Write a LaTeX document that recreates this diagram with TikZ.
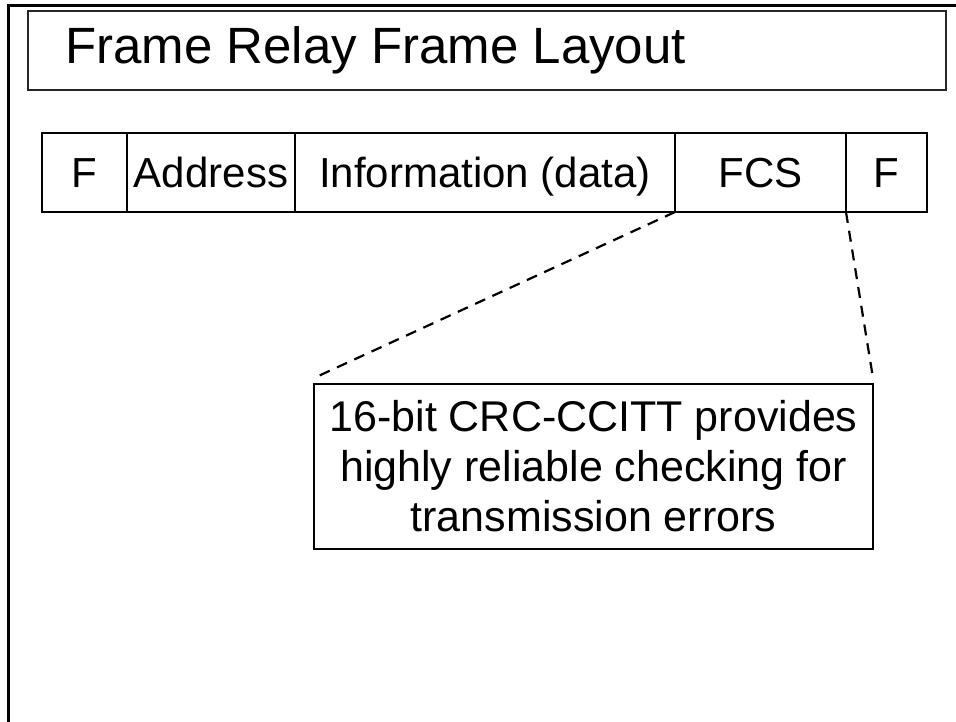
\documentclass[tikz,border=0pt]{standalone}
\usepackage{fontspec}
\setmainfont{Liberation Sans}
\usepackage{tikz}
\usetikzlibrary{positioning}
\tikzset{
  titlebox/.style={rectangle,draw=black!85,line width=1.5pt,fill=white,
    minimum width=918pt,minimum height=79pt,inner sep=0pt,outer sep=0pt},
  cellbox/.style={rectangle,draw=black,line width=2.2pt,
    font=\fontsize{42}{50}\selectfont,minimum height=79pt,
    text height=36pt,text depth=7pt,inner sep=0pt,outer sep=0pt},
  calloutbox/.style={rectangle,draw=black,line width=2.2pt,align=center,
    font=\fontsize{43}{50}\selectfont,minimum width=559pt,minimum height=165pt,
    inner sep=0pt,outer sep=0pt},
  leadline/.style={line width=2.2pt,dash pattern=on 11pt off 8pt},
}
\begin{document}
\begin{tikzpicture}[x=1pt,y=-1pt]
  \useasboundingbox (0,0) rectangle (956,721);
  % slide frame
  \draw[line width=3pt] (960,5) -- (8,5) -- (8,725);
  \node[titlebox,anchor=north west] (ttl) at (28,11) {};
  \node[anchor=base west,inner sep=0pt,font=\fontsize{51}{60}\selectfont] (ttltext) at (65,63) {Frame Relay Frame Layout};
  % frame fields
  \node[cellbox,minimum width=85pt,anchor=north west] (flag1) at (42,133) {F};
  \node[cellbox,minimum width=168pt,right=0pt of flag1] (addr) {Address};
  \node[cellbox,minimum width=380pt,right=0pt of addr] (info) {Information (data)};
  \node[cellbox,minimum width=171pt,right=0pt of info] (fcs) {FCS};
  \node[cellbox,minimum width=81pt,right=0pt of fcs] (flag2) {F};
  % FCS explanation
  \node[calloutbox,anchor=north west] (crc) at (314,384) {16-bit CRC-CCITT provides\\highly reliable checking for\\transmission errors};
  \coordinate (crcnw) at ([yshift=6pt]crc.north west);
  \coordinate (crcne) at ([yshift=6pt]crc.north east);
  \draw[leadline] (fcs.south west) -- (crcnw);
  \draw[leadline] (fcs.south east) -- (crcne);
\end{tikzpicture}
\end{document}
